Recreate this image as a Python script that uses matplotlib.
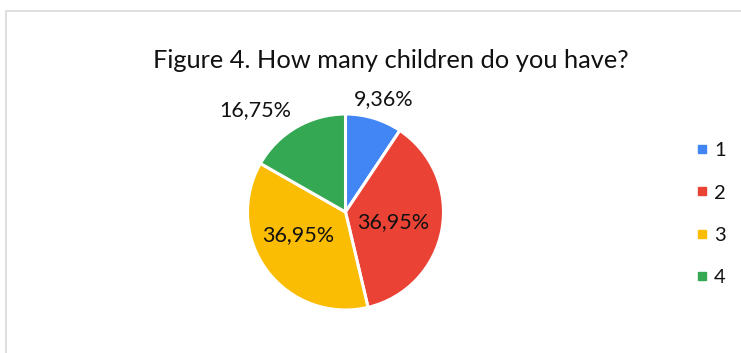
import matplotlib
matplotlib.use("Agg")
import matplotlib.pyplot as plt
from matplotlib.lines import Line2D
from matplotlib.patches import Rectangle
import numpy as np

plt.rcParams["font.family"] = ["Lato", "DejaVu Sans"]

# answers: number of children
categories = ["1", "2", "3", "4"]
shares = [9.36, 36.95, 36.95, 16.75]
pct_labels = ["9,36%", "36,95%", "36,95%", "16,75%"]
colors = ["#4285F4", "#EA4335", "#FBBC04", "#34A853"]
title = "Figure 4. How many children do you have?"

# label placement (fraction of radius, angle in degrees) per wedge
label_place = [(1.22, 71.5), (0.50, -12.0), (0.54, -154.0), (1.39, 131.5)]

W, H, DPI = 741, 353, 100
fig = plt.figure(figsize=(W / DPI, H / DPI), dpi=DPI)

# light chart-area frame, open at right and bottom
frame = Rectangle((5.5 / W, -0.2), 1.2, 1.2 - 10.5 / H,
                  transform=fig.transFigure, fill=False,
                  edgecolor="#d9d9d9", linewidth=1.2)
fig.patches.append(frame)

cx, cy, r = 345.5, 353 - 212, 98
ax = fig.add_axes([(cx - r) / W, (cy - r) / H, 2 * r / W, 2 * r / H])
ax.axis("off")

wedges, _ = ax.pie(shares, colors=colors, startangle=90, counterclock=False,
                   radius=1, wedgeprops=dict(edgecolor="white", linewidth=2.2))
ax.set_xlim(-1, 1)
ax.set_ylim(-1, 1)
ax.set_aspect("equal")

for text, (dist, ang) in zip(pct_labels, label_place):
    a = np.deg2rad(ang)
    ax.text(dist * np.cos(a), dist * np.sin(a), text, ha="center", va="center",
            fontsize=15.5, color="#111111")

fig.text(391 / W, 1 - 60 / H, title, ha="center", va="center",
         fontsize=18.3, color="#111111")

handles = [Line2D([], [], marker="s", linestyle="none", markersize=5.5,
                  markerfacecolor=c, markeredgecolor=c) for c in colors]
fig.legend(handles, categories, loc="center left",
           bbox_to_anchor=(678 / W, 1 - 214 / H), frameon=False,
           fontsize=14.5, labelspacing=1.24, handlelength=0.6,
           handletextpad=0.3, labelcolor="#111111")

fig.savefig("out.png", dpi=DPI, facecolor="white")
